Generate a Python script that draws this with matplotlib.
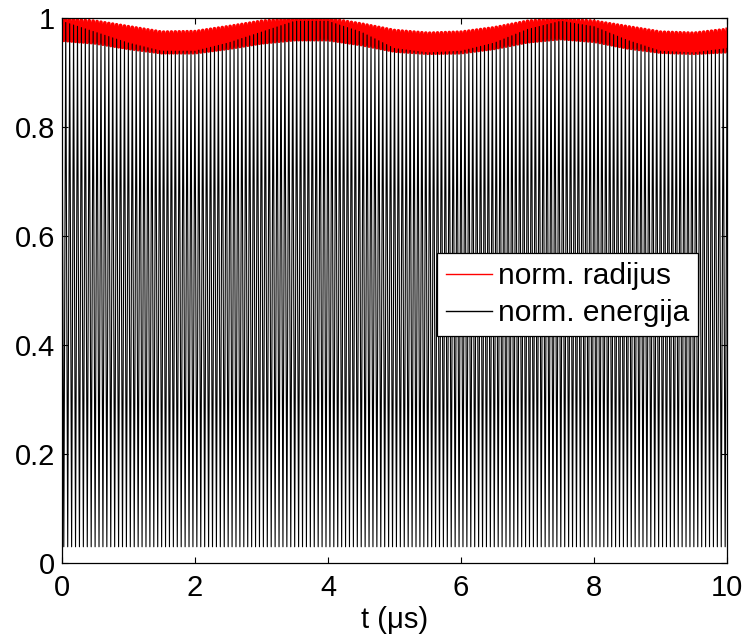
import numpy as np
import matplotlib
matplotlib.use("Agg")
import matplotlib.pyplot as plt
from matplotlib.ticker import FormatStrFormatter

plt.rcParams['font.family'] = ['Liberation Sans', 'DejaVu Sans']

# envelope knots (t in microseconds)
t_env = [0, 0.5, 1, 1.5, 2, 2.5, 3, 3.5, 4, 4.5, 5, 5.5, 6, 6.5, 7, 7.5, 8, 8.5, 9, 9.5, 10]
radius_max = [1.0, 0.995, 0.985, 0.975, 0.976, 0.985, 0.995, 1.0, 1.0, 0.99, 0.978,
              0.973, 0.975, 0.983, 0.995, 1.0, 0.995, 0.985, 0.975, 0.973, 0.98]
radius_min = [0.96, 0.955, 0.945, 0.937, 0.937, 0.945, 0.955, 0.961, 0.961, 0.952, 0.94,
              0.936, 0.937, 0.945, 0.957, 0.963, 0.958, 0.946, 0.938, 0.936, 0.939]
energy_max = [0.995, 0.975, 0.955, 0.94, 0.94, 0.955, 0.975, 0.995, 0.995, 0.975, 0.945,
              0.937, 0.94, 0.955, 0.98, 0.995, 0.985, 0.96, 0.94, 0.937, 0.945]
energy_min = [0.03] * len(t_env)
n_cycles = 170  # fast oscillations counted over 0..10 us

xticks = [0, 2, 4, 6, 8, 10]
yticks = [0, 0.2, 0.4, 0.6, 0.8, 1.0]

# turning points of the fast oscillation (alternating max / min)
t = np.linspace(0, 10, 2 * n_cycles + 1)
top = np.arange(len(t)) % 2 == 0
radius = np.where(top, np.interp(t, t_env, radius_max), np.interp(t, t_env, radius_min))
energy = np.where(top, np.interp(t, t_env, energy_max), np.interp(t, t_env, energy_min))

fig = plt.figure(figsize=(7.45, 6.37), dpi=100)
ax = fig.add_axes([0.083, 0.116, 0.893, 0.855])

ax.plot(t, radius, color='red', linewidth=2.6, label='norm. radijus')
ax.plot(t, energy, color='black', linewidth=0.8, label='norm. energija')

ax.set_xlim(0, 10)
ax.set_ylim(0, 1)
ax.set_xticks(xticks)
ax.set_yticks(yticks)
ax.yaxis.set_major_formatter(FormatStrFormatter('%g'))
ax.tick_params(direction='in', top=True, right=True, length=4, width=0.8,
               labelsize=21)
ax.tick_params(axis='x', pad=8)
ax.tick_params(axis='y', pad=5)
for s in ax.spines.values():
    s.set_linewidth(0.9)
ax.set_xlabel('t (\u03bcs)', fontsize=21, labelpad=3)

leg = ax.legend(loc='upper left', bbox_to_anchor=(0.564, 0.569), borderaxespad=0,
                fontsize=21.5, fancybox=False, framealpha=1, edgecolor='black',
                handlelength=1.55, handletextpad=0.2, borderpad=0.3,
                labelspacing=0.3)
leg.get_frame().set_linewidth(0.9)
for line in leg.get_lines():
    line.set_linewidth(1.0)

fig.savefig('out.png', dpi=100)
